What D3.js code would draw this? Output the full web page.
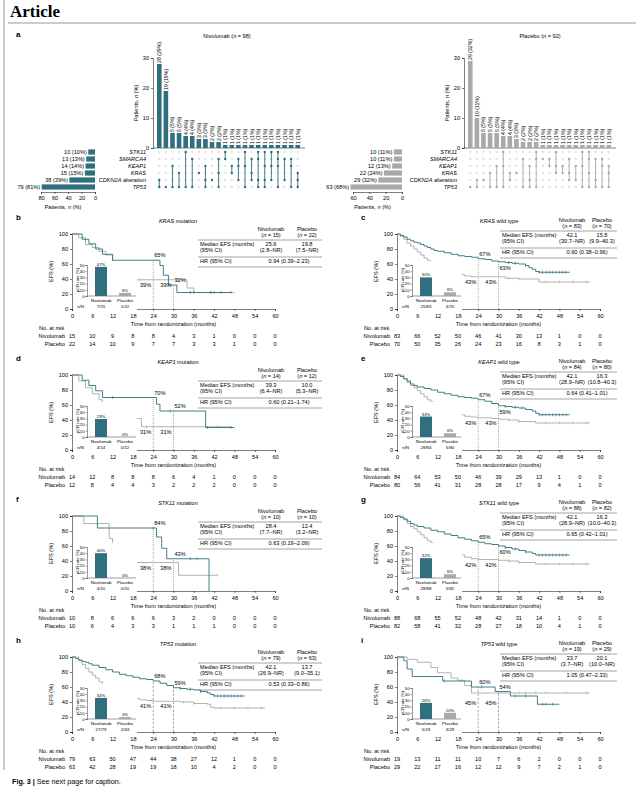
<!DOCTYPE html>
<html><head><meta charset="utf-8">
<script src="https://cdn.jsdelivr.net/npm/d3@7"></script>
<style>body{margin:0;background:#fff}text{font-family:"Liberation Sans",Arial,sans-serif}</style>
</head><body>
<svg id="fig" width="636" height="800"></svg>
<script>
const TEAL = "#2f6f7e", GREY = "#a9a9a9", LIGHT = "#e2e2e2";

// ---- panel a data ----
const genes = ["STK11", "SMARCA4", "KEAP1", "KRAS", "CDKN2A alteration", "TP53"];
const geneNivo = [10, 13, 14, 15, 38, 79];
const geneNivoPct = [10, 13, 14, 15, 39, 81];
const genePlac = [10, 10, 12, 22, 29, 63];
const genePlacPct = [11, 11, 13, 24, 32, 68];
const comboCountNivo = [28, 19, 5, 5, 4, 4, 3, 3, 2, 2, 1, 1, 1, 1, 1, 1, 1, 1, 1, 1, 1, 1];
const comboSetsNivo = [[4,5],[5],[2,5],[3,5],[0,5],[1,5],[3],[2,4,5],[4],[1,3,5],[0,1],[2,3],[1,2,4],[0,2,5],[1,3,4],[0,1,4,5],[0,2,4,5],[0,2,4],[0,1,2,5],[1,4],[1,2,5],[3,4,5]];
const comboCountPlac = [29, 10, 5, 5, 5, 4, 4, 3, 2, 2, 2, 1, 1, 1, 1, 1, 1, 1, 1, 1, 1, 1];
const comboSetsPlac = [[5],[4,5],[4],[3,5],[2,5],[0,2,5],[3,4],[3],[1,5],[2,4,5],[0,1,5],[1],[1,2],[0,2,3],[2,3],[1,3,4],[2,4],[0,2,5],[0,1,3,5],[1,4,5],[1,2,5],[2,3,5]];

// ---- KM panels data ----
const panelIds = ["b", "c", "d", "e", "f", "g", "h", "i"];
const panelGene = ["KRAS", "KRAS", "KEAP1", "KEAP1", "STK11", "STK11", "TP53", "TP53"];
const panelKind = ["mutation", "wild type", "mutation", "wild type", "mutation", "wild type", "mutation", "wild type"];
const nNivo = [15, 83, 14, 84, 10, 88, 79, 19];
const nPlac = [22, 70, 12, 80, 10, 82, 63, 29];
const medianNivo = [["25.6","(2.8–NR)"],["42.1","(30.7–NR)"],["39.3","(6.4–NR)"],["42.1","(28.9–NR)"],["28.4","(7.7–NR)"],["42.1","(28.9–NR)"],["42.1","(26.9–NR)"],["33.7","(3.7–NR)"]];
const medianPlac = [["19.8","(7.5–NR)"],["15.8","(9.9–40.3)"],["10.0","(5.3–NR)"],["16.3","(10.8–40.3)"],["12.4","(3.2–NR)"],["16.3","(10.0–40.3)"],["13.7","(9.0–35.1)"],["20.1","(10.0–NR)"]];
const hrText = ["0.94 (0.39–2.23)", "0.60 (0.38–0.96)", "0.60 (0.21–1.74)", "0.64 (0.41–1.01)", "0.63 (0.19–2.09)", "0.65 (0.42–1.01)", "0.53 (0.33–0.86)", "1.05 (0.47–2.33)"];
const pcrNivo = [47, 30, 29, 33, 40, 32, 34, 26];
const pcrNivoN = ["7/15", "25/83", "4/14", "28/84", "4/10", "28/88", "27/79", "5/19"];
const pcrPlac = [5, 6, 0, 6, 0, 6, 3, 10];
const pcrPlacN = ["1/22", "4/70", "0/12", "5/80", "0/10", "5/82", "2/63", "3/29"];
const landNivo = [[65, 32], [67, 63], [70, 52], [67, 59], [84, 43], [65, 60], [68, 59], [60, 54]];
const landPlac = [[39, 39], [43, 43], [31, 31], [43, 43], [38, 38], [42, 42], [41, 41], [45, 45]];
const timeTicks = [0, 6, 12, 18, 24, 30, 36, 42, 48, 54, 60];
const riskNivo = [
  [15,10,9,8,8,4,3,1,0,0,0],[83,66,52,50,46,41,30,13,1,0,0],
  [14,12,8,8,8,6,4,1,0,0,0],[84,64,53,50,46,39,29,13,1,0,0],
  [10,8,6,6,6,3,2,0,0,0,0],[88,68,55,52,48,42,31,14,1,0,0],
  [79,63,50,47,44,38,27,12,1,0,0],[19,13,11,11,10,7,6,2,0,0,0]];
const riskPlac = [
  [22,14,10,9,7,7,3,3,1,0,0],[70,50,35,26,24,23,16,8,3,1,0],
  [12,8,4,4,3,2,2,2,0,0,0],[80,56,41,31,28,28,17,9,4,1,0],
  [10,6,4,3,3,1,1,1,0,0,0],[82,58,41,32,28,27,18,10,4,1,0],
  [63,42,28,19,19,18,10,4,2,0,0],[29,22,17,16,12,12,9,7,2,1,0]];
const curvesNivo = [
  [[0,100],[3,93],[5,87],[7,80],[9,73],[12,65],[25,65],[26,58],[27,45],[28.5,32],[31,22],[47,22]],
  [[0,100],[1,98],[2,96],[3,93],[4,91],[5,89],[6,88],[7,86],[8,84],[9,82],[10,80],[11,78],[12,77],[14,75],[16,73],[18,71],[20,70],[22,69],[24,67],[26,66],[28,64],[30,63],[32,62],[34,61],[36,60],[38,58],[39,55],[40,53],[41,50],[42,49],[51,49]],
  [[0,100],[3,93],[5,86],[7,79],[9,70],[24.5,70],[25,61],[26,52],[39,52],[39.5,30],[48,30]],
  [[0,100],[1,98],[2,95],[3,92],[4,88],[5,86],[6,84],[8,82],[10,80],[12,77],[14,75],[16,73],[18,71],[20,70],[22,69],[24,67],[26,65],[28,62],[30,59],[32,58],[34,57],[36,56],[38,54],[40,52],[41,49],[42,47],[51,47]],
  [[0,100],[7,100],[7.5,84],[24,84],[25,72],[26.5,57],[28,43],[40,43],[40.5,0]],
  [[0,100],[1,98],[2,96],[3,93],[4,90],[5,88],[6,86],[8,84],[10,81],[12,79],[14,76],[16,74],[18,71],[20,69],[22,67],[24,65],[26,63],[28,62],[30,60],[32,58],[34,56],[36,54],[38,52],[40,50],[41,48],[51,48]],
  [[0,100],[1,98],[2,96],[3,94],[4,93],[5,91],[6,89],[8,86],[10,83],[12,80],[14,77],[16,75],[18,73],[20,71],[22,70],[24,68],[26,65],[28,62],[30,59],[32,58],[34,57],[36,56],[38,54],[40,52],[41,50],[42,48],[51,48]],
  [[0,100],[2,95],[3,84],[4.5,74],[13,74],[13.5,68],[21,68],[22,60],[28,60],[29,54],[33,54],[33.5,48],[41,48],[41.5,37],[48,37]]];
const curvesPlac = [
  [[0,100],[2,95],[4,86],[6,82],[8,77],[10,72],[12,63],[13,50],[15,45],[18,39],[33,39],[34,28],[36,22],[48,22]],
  [[0,100],[1,97],[2,93],[3,88],[4,84],[5,80],[6,76],[7,72],[8,68],[9,65],[10,61],[11,58],[12,55],[13,53],[14,51],[15,49],[16,48],[18,46],[20,44],[22,43],[30,43],[32,41],[36,40],[41,40],[42,36],[57,36]],
  [[0,100],[2,92],[4,83],[6,75],[8,67],[9,58],[9.5,50],[10,42],[20,42],[20.5,31],[47,31]],
  [[0,100],[2,95],[3,90],[4,86],[5,83],[6,79],[7,75],[8,71],[9,67],[10,64],[11,61],[12,58],[14,54],[16,50],[18,47],[20,45],[22,44],[24,43],[28,42],[30,41],[33,40],[36,38],[40,38],[41,36],[57,36]],
  [[0,100],[3.3,100],[3.5,90],[10.5,90],[11,70],[12,52],[15,52],[15.5,38],[31,38],[31.5,21],[43,21]],
  [[0,100],[2,95],[3,90],[4,86],[5,83],[6,79],[7,75],[8,71],[9,67],[10,64],[11,61],[12,58],[14,54],[16,51],[18,48],[20,45],[22,43],[24,42],[28,42],[30,41],[33,40],[36,38],[40,38],[41,36],[57,36]],
  [[0,100],[2,95],[3,90],[4,85],[5,80],[6,76],[7,72],[8,67],[9,63],[10,60],[11,57],[12,54],[14,51],[16,48],[18,45],[20,43],[22,42],[24,41],[30,41],[32,40],[36,38],[40,37],[41,33],[42,32],[57,32]],
  [[0,100],[3,97],[6,93],[10,86],[12,79],[16,72],[18,69],[20,62],[22,52],[57,52]]];
const censorNivo = [[35,36,41,42,44,47],[33,35,38,42,43,44,45,46,47,48,49,50],[12,29,40,47],[32,35,37,42,43,44,45,46,47,48,49,50],[24,35,37],[32,35,38,42,43,44,45,46,47,48,49,50],[32,35,38,42,43,44,45,46,47,48,49,50],[14,25,35,38,43,44,46]];
const censorPlac = [[14,20,41],[33,36,44,48,52,56],[22,43],[33,36,44,48,52,56],[43],[33,36,44,48,52,56],[33,36,44,48,52,56],[30,36,38,41,44,50,56]];

const svg = d3.select("#fig");
const fs = 5.6;

svg.append("text").attr("x", 10).attr("y", 17).attr("font-size", 17).attr("font-weight", "bold")
  .style("font-family", "Liberation Serif, serif").text("Article");
svg.append("line").attr("x1", 8).attr("x2", 636).attr("y1", 23).attr("y2", 23).attr("stroke", "#555").attr("stroke-width", 0.6);
svg.append("line").attr("x1", 4).attr("x2", 4).attr("y1", 0).attr("y2", 770).attr("stroke", "#555").attr("stroke-width", 0.6);
svg.append("text").attr("x", 16).attr("y", 37).attr("font-size", 8).attr("font-weight", "bold").text("a");
svg.append("text").attr("x", 12).attr("y", 784).attr("font-size", 7.2)
  .html('<tspan font-weight="bold">Fig. 3 | </tspan>See next page for caption.');

function upset(opt) {
  const g = svg.append("g");
  const color = opt.color;
  const x = d3.scaleBand().domain(d3.range(opt.counts.length)).range([opt.barL, opt.barR]).padding(0.3);
  const y = d3.scaleLinear().domain([0, 30]).range([148, 58]);
  const rowY = d3.scalePoint().domain(d3.range(6)).range([152, 187]);
  g.append("text").attr("x", opt.titleX).attr("y", 38).attr("text-anchor", "middle").attr("font-size", fs)
    .html(opt.title);
  g.append("g").attr("transform", `translate(${opt.axisX},0)`)
    .call(d3.axisLeft(y).tickValues([0, 10, 20, 30]).tickSize(2).tickPadding(2))
    .call(a => a.selectAll("text").attr("font-size", fs))
    .call(a => a.selectAll("path,line").attr("stroke-width", 0.5));
  g.append("line").attr("x1", opt.axisX).attr("x2", opt.barR + 3).attr("y1", 148).attr("y2", 148).attr("stroke", "#000").attr("stroke-width", 0.5);
  g.append("text").attr("transform", `translate(${opt.axisX - 15},103) rotate(-90)`).attr("text-anchor", "middle")
    .attr("font-size", fs).html('Patients, <tspan font-style="italic">n</tspan> (%)');
  g.selectAll(".bar").data(opt.counts).join("rect")
    .attr("x", (d, i) => x(i)).attr("width", x.bandwidth())
    .attr("y", d => y(d)).attr("height", d => 148 - y(d)).attr("fill", color);
  g.selectAll(".blab").data(opt.counts).join("text")
    .attr("transform", (d, i) => `translate(${x(i) + x.bandwidth() / 2 + 2},${y(d) - 1}) rotate(-90)`)
    .attr("font-size", 5.2).text(d => `${d} (${Math.round(d / opt.n * 100)}%)`);
  // matrix
  opt.sets.forEach((s, i) => {
    const cx = x(i) + x.bandwidth() / 2;
    d3.range(6).forEach(r => g.append("circle").attr("cx", cx).attr("cy", rowY(r)).attr("r", 1.2)
      .attr("fill", s.includes(r) ? color : LIGHT));
    g.append("line").attr("x1", cx).attr("x2", cx).attr("y1", rowY(d3.min(s))).attr("y2", rowY(d3.max(s)))
      .attr("stroke", color).attr("stroke-width", 0.9);
  });
  genes.forEach((gn, r) => {
    const t = g.append("text").attr("x", opt.axisX - 7).attr("y", rowY(r) + 2).attr("text-anchor", "end").attr("font-size", fs);
    if (gn.includes("CDKN2A")) t.html('<tspan font-style="italic">CDKN2A</tspan> alteration');
    else t.attr("font-style", "italic").text(gn);
  });
  // left bars
  const lx = d3.scaleLinear().domain([0, opt.lmax]).range([opt.lR, opt.lR - opt.lPx]);
  g.selectAll(".lb").data(opt.gn).join("rect")
    .attr("x", d => lx(d)).attr("width", d => opt.lR - lx(d))
    .attr("y", (d, r) => rowY(r) - 2.6).attr("height", 5.2).attr("fill", color);
  g.selectAll(".ll").data(opt.gn).join("text")
    .attr("x", d => lx(d) - 1.5).attr("y", (d, r) => rowY(r) + 2).attr("text-anchor", "end").attr("font-size", fs)
    .text((d, r) => `${d} (${opt.gp[r]}%)`);
  g.append("g").attr("transform", "translate(0,192)")
    .call(d3.axisBottom(lx).tickValues(opt.lticks).tickSize(2).tickPadding(2))
    .call(a => a.selectAll("text").attr("font-size", fs))
    .call(a => a.selectAll("path,line").attr("stroke-width", 0.5));
  g.append("text").attr("x", opt.lR - opt.lPx / 2 - 5).attr("y", 209).attr("text-anchor", "middle").attr("font-size", fs)
    .html('Patients, <tspan font-style="italic">n</tspan> (%)');
}
upset({color: TEAL, counts: comboCountNivo, sets: comboSetsNivo, n: 98, barL: 155, barR: 302, axisX: 153,
  title: 'Nivolumab (<tspan font-style="italic">n</tspan> = 98)', titleX: 227, gn: geneNivo, gp: geneNivoPct,
  lmax: 80, lR: 95, lPx: 54, lticks: [0, 20, 40, 60, 80]});
upset({color: GREY, counts: comboCountPlac, sets: comboSetsPlac, n: 92, barL: 466, barR: 613, axisX: 464,
  title: 'Placebo (<tspan font-style="italic">n</tspan> = 92)', titleX: 540, gn: genePlac, gp: genePlacPct,
  lmax: 60, lR: 402, lPx: 49, lticks: [0, 20, 40, 60]});

function km(i) {
  const col = i % 2, row = Math.floor(i / 2);
  const base = 220 + row * 141;
  const x0 = col ? 397 : 72, x1 = col ? 600 : 275;
  const yTop = base + 14, yBot = base + 89;
  const g = svg.append("g");
  const x = d3.scaleLinear().domain([0, 60]).range([x0, x1]);
  const y = d3.scaleLinear().domain([0, 100]).range([yBot, yTop]);
  g.append("text").attr("x", col ? 361 : 16).attr("y", base).attr("font-size", 8).attr("font-weight", "bold").text(panelIds[i]);
  g.append("text").attr("x", x0 + (col ? 102 : 106)).attr("y", base + 3).attr("text-anchor", "middle").attr("font-size", fs)
    .html(`<tspan font-style="italic">${panelGene[i]}</tspan> ${panelKind[i]}`);
  const ax = a => a.call(s => s.selectAll("text").attr("font-size", fs)).call(s => s.selectAll("path,line").attr("stroke-width", 0.5));
  g.append("g").attr("transform", `translate(0,${yBot})`).call(d3.axisBottom(x).tickValues(timeTicks).tickSize(2).tickPadding(3)).call(ax);
  g.append("g").attr("transform", `translate(${x0},0)`).call(d3.axisLeft(y).tickValues([0, 20, 40, 60, 80, 100]).tickSize(2).tickPadding(2)).call(ax);
  g.append("text").attr("transform", `translate(${x0 - 19},${(yTop + yBot) / 2}) rotate(-90)`).attr("text-anchor", "middle").attr("font-size", fs).text("EFS (%)");
  g.append("text").attr("x", (x0 + x1) / 2).attr("y", yBot + 17).attr("text-anchor", "middle").attr("font-size", fs).text("Time from randomization (months)");
  // landmarks
  [24, 30].forEach((t, k) => {
    g.append("line").attr("x1", x(t)).attr("x2", x(t)).attr("y1", yBot).attr("y2", y(landNivo[i][k]))
      .attr("stroke", "#555").attr("stroke-width", 0.5).attr("stroke-dasharray", row === 3 ? "2.5,1.5" : "1,1");
  });
  const line = d3.line().curve(d3.curveStepAfter).x(d => x(d[0])).y(d => y(d[1]));
  const step = (pts, t) => { let v = 100; pts.forEach(p => { if (p[0] <= t) v = p[1]; }); return v; };
  [[curvesPlac[i], censorPlac[i], GREY], [curvesNivo[i], censorNivo[i], TEAL]].forEach(([pts, cens, c]) => {
    g.append("path").attr("d", line(pts)).attr("fill", "none").attr("stroke", c).attr("stroke-width", 0.9);
    g.selectAll(null).data(cens).join("line")
      .attr("x1", d => x(d)).attr("x2", d => x(d)).attr("y1", d => y(step(pts, d)) - 1.5).attr("y2", d => y(step(pts, d)) + 1.5)
      .attr("stroke", c).attr("stroke-width", 0.6);
  });
  const lab = (t, v, dx, dy, anchor) => g.append("text").attr("x", x(t) + dx).attr("y", y(v) + dy)
    .attr("text-anchor", anchor).attr("font-size", fs).text(v + "%");
  lab(24, landNivo[i][0], 1, -3, "start");
  lab(30, landNivo[i][1], 1, col && row < 3 ? 8 : -3, "start");
  lab(24, landPlac[i][0], -2, 7, "end");
  lab(30, landPlac[i][1], -2, 7, "end");
  // inset pCR
  const iy = d3.scaleLinear().domain([0, 50]).range([base + 76, base + 45]);
  g.append("rect").attr("x", x0 + 1).attr("y", base + 41).attr("width", 64).attr("height", 50).attr("fill", "#fff");
  g.append("g").attr("transform", `translate(${x0 + 15},0)`).call(d3.axisLeft(iy).tickValues([0, 10, 20, 30, 40, 50]).tickSize(1.5).tickPadding(1))
    .call(s => s.selectAll("text").attr("font-size", 4.2)).call(s => s.selectAll("path,line").attr("stroke-width", 0.4));
  g.append("line").attr("x1", x0 + 15).attr("x2", x0 + 64).attr("y1", base + 76).attr("y2", base + 76).attr("stroke", "#000").attr("stroke-width", 0.4);
  g.append("text").attr("transform", `translate(${x0 + 7},${base + 60}) rotate(-90)`).attr("text-anchor", "middle").attr("font-size", 4.2).text("pCR rate (%)");
  [[pcrNivo[i], pcrNivoN[i], "Nivolumab", TEAL, 29], [pcrPlac[i], pcrPlacN[i], "Placebo", GREY, 53]].forEach(([v, nn, nm, c, cx]) => {
    g.append("rect").attr("x", x0 + cx - 6).attr("width", 12).attr("y", iy(v)).attr("height", base + 76 - iy(v)).attr("fill", c);
    g.append("text").attr("x", x0 + cx).attr("y", iy(v) - 1).attr("text-anchor", "middle").attr("font-size", 4.2).text(v + "%");
    g.append("text").attr("x", x0 + cx).attr("y", base + 82).attr("text-anchor", "middle").attr("font-size", 4.4).text(nm);
    g.append("text").attr("x", x0 + cx).attr("y", base + 88).attr("text-anchor", "middle").attr("font-size", 4.4).text(nn);
  });
  g.append("text").attr("x", x0 + 12).attr("y", base + 88).attr("text-anchor", "end").attr("font-size", 4.4).text("n/N");
  // table
  const tl = x0 + (col ? 103 : 126), tr = x0 + (col ? 220 : 250);
  const c1 = x0 + (col ? 175 : 199), c2 = x0 + (col ? 205 : 235);
  const ty = base + (col ? 0 : 9);
  const tt = (xx, yy, s, anc) => g.append("text").attr("x", xx).attr("y", yy).attr("text-anchor", anc || "middle").attr("font-size", fs).html(s);
  tt(c1, ty + 2, "Nivolumab"); tt(c2, ty + 2, "Placebo");
  tt(c1, ty + 8, `(<tspan font-style="italic">n</tspan> = ${nNivo[i]})`); tt(c2, ty + 8, `(<tspan font-style="italic">n</tspan> = ${nPlac[i]})`);
  [ty + 11, ty + 28, ty + 38].forEach(yy => g.append("line").attr("x1", tl).attr("x2", tr).attr("y1", yy).attr("y2", yy).attr("stroke", "#444").attr("stroke-width", 0.5));
  tt(tl + 2, ty + 17, "Median EFS (months)", "start"); tt(tl + 2, ty + 23, "(95% CI)", "start");
  tt(c1, ty + 17, medianNivo[i][0]); tt(c1, ty + 23, medianNivo[i][1]);
  tt(c2, ty + 17, medianPlac[i][0]); tt(c2, ty + 23, medianPlac[i][1]);
  tt(tl + 2, ty + 34, "HR (95% CI)", "start"); tt((c1 + c2) / 2, ty + 34, hrText[i]);
  // risk table
  tt(x0 - 33, yBot + 21, "No. at risk", "start");
  tt(x0 - 7, yBot + 29, "Nivolumab", "end");
  tt(x0 - 7, yBot + 37, "Placebo", "end");
  timeTicks.forEach((t, k) => {
    tt(x(t), yBot + 29, riskNivo[i][k]);
    tt(x(t), yBot + 37, riskPlac[i][k]);
  });
}
panelIds.forEach((d, i) => km(i));
</script>
</body></html>
